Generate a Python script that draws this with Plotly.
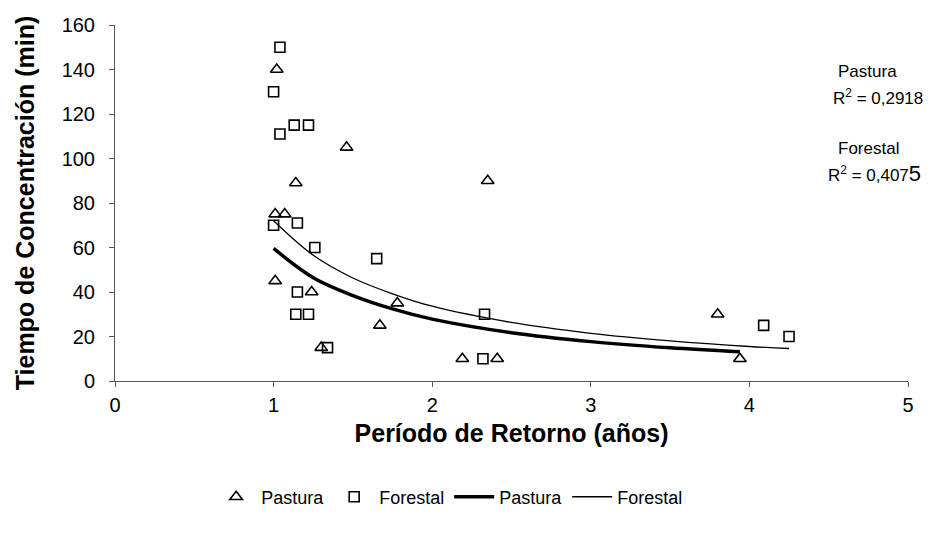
import plotly.graph_objects as go

# Observed points: return period (years) vs concentration time (min)
pastura_x = [1.02, 1.46, 1.14, 1.01, 1.07, 1.01, 1.24, 1.67, 1.78, 1.30, 2.35, 2.19, 2.41, 3.80, 3.94]
pastura_y = [140, 105, 89, 75, 75, 45, 40, 25, 35, 15, 90, 10, 10, 30, 10]

forestal_x = [1.04, 1.00, 1.13, 1.22, 1.04, 1.00, 1.15, 1.26, 1.65, 1.15, 1.14, 1.22, 1.34, 2.33, 2.32, 4.09, 4.25]
forestal_y = [150, 130, 115, 115, 111, 70, 71, 60, 55, 40, 30, 30, 15, 30, 10, 25, 20]

# Power trend curves
trend_pastura_x = [1.0, 1.25, 1.5, 1.75, 2.0, 2.5, 3.0, 3.5, 3.94]
trend_pastura_y = [59.6, 46.4, 38.4, 32.4, 27.8, 21.7, 17.7, 14.9, 13.1]

trend_forestal_x = [1.0, 1.25, 1.5, 1.75, 2.0, 2.5, 3.0, 3.5, 4.0, 4.25]
trend_forestal_y = [72.0, 56.5, 46.3, 39.2, 33.6, 26.3, 21.4, 18.0, 15.5, 14.6]

x_ticks = [0, 1, 2, 3, 4, 5]
y_ticks = [0, 20, 40, 60, 80, 100, 120, 140, 160]

FONT = "Liberation Sans, Arial, sans-serif"
AXIS_COLOR = "#555555"

fig = go.Figure()
fig.add_trace(go.Scatter(
    x=pastura_x, y=pastura_y, mode="markers", name="Pastura",
    marker=dict(symbol="triangle-up-open", size=11, color="black", line=dict(width=1.6, color="black")),
))
fig.add_trace(go.Scatter(
    x=forestal_x, y=forestal_y, mode="markers", name="Forestal",
    marker=dict(symbol="square-open", size=10, color="black", line=dict(width=1.6, color="black")),
))
fig.add_trace(go.Scatter(
    x=trend_pastura_x, y=trend_pastura_y, mode="lines", name="Pastura",
    line=dict(color="black", width=3.5, shape="spline"),
))
fig.add_trace(go.Scatter(
    x=trend_forestal_x, y=trend_forestal_y, mode="lines", name="Forestal",
    line=dict(color="black", width=1.3, shape="spline"),
))

# R² labels for the two power fits
r2_labels = [
    (0.909, 0.868, "Pastura"),
    (0.903, 0.798, "R<sup>2</sup> = 0,2918"),
    (0.909, 0.654, "Forestal"),
    (0.897, 0.584, "R<sup>2</sup> = 0,407<span style='font-size:22px'>5</span>"),
]
for ax, ay, txt in r2_labels:
    fig.add_annotation(xref="paper", yref="paper", xanchor="left", yanchor="middle",
                       showarrow=False, font=dict(family=FONT, size=17, color="black"),
                       x=ax, y=ay, text=txt)

fig.update_layout(
    width=951, height=539,
    margin=dict(l=115, r=43, t=25, b=158),
    paper_bgcolor="white", plot_bgcolor="white",
    font=dict(family=FONT, size=18, color="black"),
    showlegend=True,
    legend=dict(orientation="h", x=0.422, y=-0.326, xanchor="center", yanchor="middle",
                font=dict(family=FONT, size=18, color="black"), itemwidth=40,
                bgcolor="rgba(0,0,0,0)"),
    xaxis=dict(range=[0, 5], tickvals=x_ticks, ticktext=[str(v) for v in x_ticks],
               showgrid=False, zeroline=False, showline=True, linecolor=AXIS_COLOR, linewidth=1,
               ticks="outside", ticklen=5, tickcolor=AXIS_COLOR, ticklabelstandoff=1,
               tickfont=dict(size=20),
               title=dict(text="<b>Período de Retorno (años)</b>", font=dict(size=25), standoff=9)),
    yaxis=dict(range=[0, 160], tickvals=y_ticks, ticktext=[str(v) for v in y_ticks],
               showgrid=False, zeroline=False, showline=True, linecolor=AXIS_COLOR, linewidth=1,
               ticks="outside", ticklen=5, tickcolor=AXIS_COLOR, ticklabelstandoff=10,
               tickfont=dict(size=20),
               title=dict(text="<b>Tiempo de Concentración (min)</b>", font=dict(size=25), standoff=19)),
)

fig.write_html("out.html")
